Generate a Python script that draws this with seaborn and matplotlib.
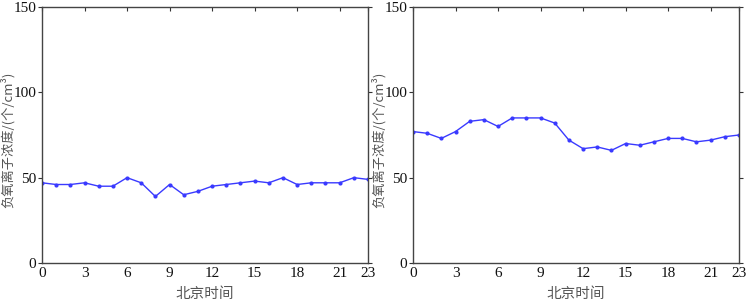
import numpy as np
import pandas as pd
import matplotlib
matplotlib.use('Agg')
import matplotlib.pyplot as plt
import seaborn as sns

hours = list(range(24))
left_vals = [47, 46, 46, 47, 45, 45, 50, 47, 39, 46, 40, 42,
             45, 46, 47, 48, 47, 50, 46, 47, 47, 47, 50, 49]
right_vals = [77, 76, 73, 77, 83, 84, 80, 85, 85, 85, 82, 72,
              67, 68, 66, 70, 69, 71, 73, 73, 71, 72, 74, 75]
xticks = [0, 3, 6, 9, 12, 15, 18, 21, 23]
yticks = [0, 50, 100, 150]
xlabel = '北京时间'
ylabel = '负氧离子浓度/(个/cm³)'

sns.set_style('white')
plt.rcParams['font.family'] = ['Liberation Serif', 'Noto Sans CJK SC', 'DejaVu Sans']

fig = plt.figure(figsize=(7.46, 3.02), dpi=100)
ax1 = fig.add_axes([0.0563, 0.129, 0.437, 0.848])
ax2 = fig.add_axes([0.5536, 0.129, 0.437, 0.848])

for ax, vals in [(ax1, left_vals), (ax2, right_vals)]:
    df = pd.DataFrame({'hour': hours, 'val': vals})
    sns.lineplot(data=df, x='hour', y='val', ax=ax, color='#3a3aff',
                 marker='o', markersize=3, markeredgewidth=0, linewidth=1)
    ax.set_xlim(0, 23)
    ax.set_ylim(0, 150)
    ax.set_xticks(xticks)
    ax.set_yticks(yticks)
    ax.tick_params(axis='both', labelsize=11, length=3, width=0.8,
                   color='#333333', labelcolor='#111111', pad=3,
                   top=True, right=True, direction='in')
    ax.tick_params(axis='y', which='both', left=True, direction='out', pad=1)
    for s in ax.spines.values():
        s.set_color('#444444')
        s.set_linewidth(1)
    ax.set_xlabel(xlabel, fontsize=10.5, color='#555555',
                  family=['Noto Sans CJK SC', 'DejaVu Sans'])
    ax.xaxis.set_label_coords(0.5, -0.095)
    ax.set_ylabel(ylabel, fontsize=9.5, color='#555555',
                  family=['Noto Sans CJK SC', 'Liberation Serif'])
    ax.yaxis.set_label_coords(-0.083, 0.48)

fig.savefig('out.png', dpi=100)
